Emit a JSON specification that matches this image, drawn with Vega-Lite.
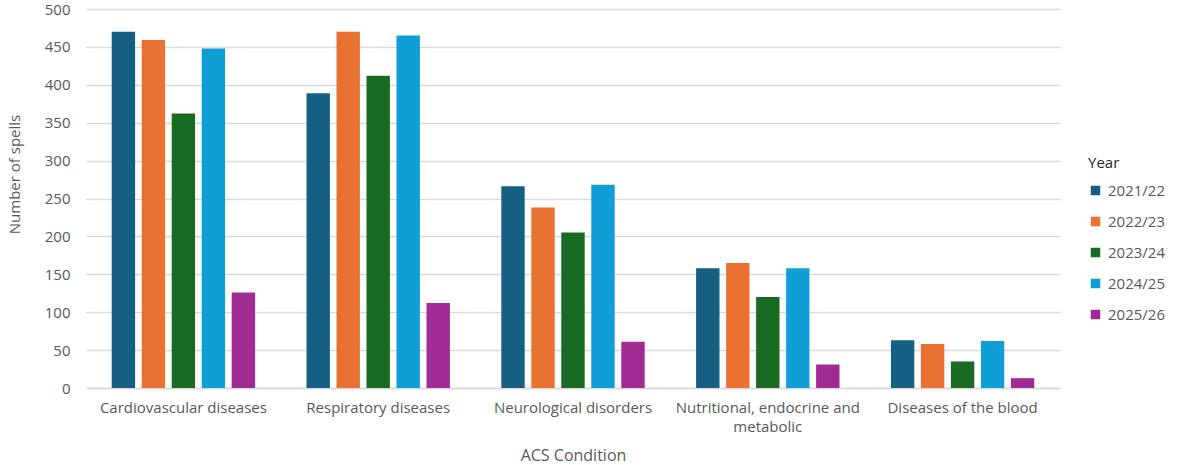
{
  "$schema": "https://vega.github.io/schema/vega-lite/v6.json",
  "width": 974,
  "height": 379,
  "autosize": {"type": "none"},
  "padding": {"left": 86, "top": 9, "right": 118, "bottom": 77},
  "background": "white",
  "config": {
    "font": "Open Sans",
    "view": {"stroke": null},
    "axis": {"labelColor": "#595959", "titleColor": "#595959", "titleFontWeight": "normal", "labelFont": "Open Sans", "titleFont": "Open Sans"},
    "legend": {"labelColor": "#595959", "titleColor": "#262626", "titleFontWeight": "normal", "labelFont": "Open Sans", "titleFont": "Open Sans"}
  },
  "data": {
    "values": [
      {"condition": "Cardiovascular diseases", "year": "2021/22", "spells": 470},
      {"condition": "Cardiovascular diseases", "year": "2022/23", "spells": 459},
      {"condition": "Cardiovascular diseases", "year": "2023/24", "spells": 362},
      {"condition": "Cardiovascular diseases", "year": "2024/25", "spells": 448},
      {"condition": "Cardiovascular diseases", "year": "2025/26", "spells": 126},
      {"condition": "Respiratory diseases", "year": "2021/22", "spells": 389},
      {"condition": "Respiratory diseases", "year": "2022/23", "spells": 470},
      {"condition": "Respiratory diseases", "year": "2023/24", "spells": 412},
      {"condition": "Respiratory diseases", "year": "2024/25", "spells": 465},
      {"condition": "Respiratory diseases", "year": "2025/26", "spells": 112},
      {"condition": "Neurological disorders", "year": "2021/22", "spells": 266},
      {"condition": "Neurological disorders", "year": "2022/23", "spells": 238},
      {"condition": "Neurological disorders", "year": "2023/24", "spells": 205},
      {"condition": "Neurological disorders", "year": "2024/25", "spells": 268},
      {"condition": "Neurological disorders", "year": "2025/26", "spells": 61},
      {"condition": "Nutritional, endocrine and metabolic", "year": "2021/22", "spells": 158},
      {"condition": "Nutritional, endocrine and metabolic", "year": "2022/23", "spells": 165},
      {"condition": "Nutritional, endocrine and metabolic", "year": "2023/24", "spells": 120},
      {"condition": "Nutritional, endocrine and metabolic", "year": "2024/25", "spells": 158},
      {"condition": "Nutritional, endocrine and metabolic", "year": "2025/26", "spells": 31},
      {"condition": "Diseases of the blood", "year": "2021/22", "spells": 63},
      {"condition": "Diseases of the blood", "year": "2022/23", "spells": 58},
      {"condition": "Diseases of the blood", "year": "2023/24", "spells": 35},
      {"condition": "Diseases of the blood", "year": "2024/25", "spells": 62},
      {"condition": "Diseases of the blood", "year": "2025/26", "spells": 13}
    ]
  },
  "mark": {"type": "bar"},
  "encoding": {
    "x": {
      "field": "condition",
      "type": "nominal",
      "sort": null,
      "scale": {"paddingInner": 0.23, "paddingOuter": 0.115},
      "axis": {
        "title": "ACS Condition",
        "titleFontSize": 16,
        "titleBaseline": "middle",
        "titleY": 67,
        "labelAngle": 0,
        "labelFontSize": 15,
        "labelPadding": 12,
        "labelLineHeight": 19,
        "labelBaseline": "top",
        "labelOverlap": false,
        "labelLimit": 400,
        "labelExpr": "datum.label == 'Nutritional, endocrine and metabolic' ? ['Nutritional, endocrine and', 'metabolic'] : datum.label",
        "ticks": false,
        "domainColor": "#d9d9d9",
        "domainWidth": 1.5,
        "grid": false
      }
    },
    "xOffset": {
      "field": "year",
      "type": "nominal",
      "scale": {"paddingInner": 0.22, "paddingOuter": 0.11}
    },
    "y": {
      "field": "spells",
      "type": "quantitative",
      "scale": {"domain": [0, 500], "nice": false},
      "axis": {
        "title": "Number of spells",
        "titleFontSize": 15,
        "titleX": -72,
        "titleY": 165,
        "titleAngle": -90,
        "titleBaseline": "middle",
        "values": [0, 50, 100, 150, 200, 250, 300, 350, 400, 450, 500],
        "labelOverlap": false,
        "labelFontSize": 15,
        "labelPadding": 16,
        "ticks": false,
        "domain": false,
        "gridColor": "#d9d9d9",
        "gridWidth": 1.5
      }
    },
    "color": {
      "field": "year",
      "type": "nominal",
      "scale": {
        "domain": ["2021/22", "2022/23", "2023/24", "2024/25", "2025/26"],
        "range": ["#156082", "#E97132", "#196B24", "#0F9ED5", "#A02B93"]
      },
      "legend": {
        "title": "Year",
        "orient": "none",
        "legendX": 1002,
        "legendY": 147,
        "titleFontSize": 15,
        "titlePadding": 12,
        "labelFontSize": 15,
        "symbolType": "square",
        "symbolSize": 90,
        "symbolStrokeWidth": 0,
        "rowPadding": 15,
        "labelOffset": 5
      }
    }
  }
}
